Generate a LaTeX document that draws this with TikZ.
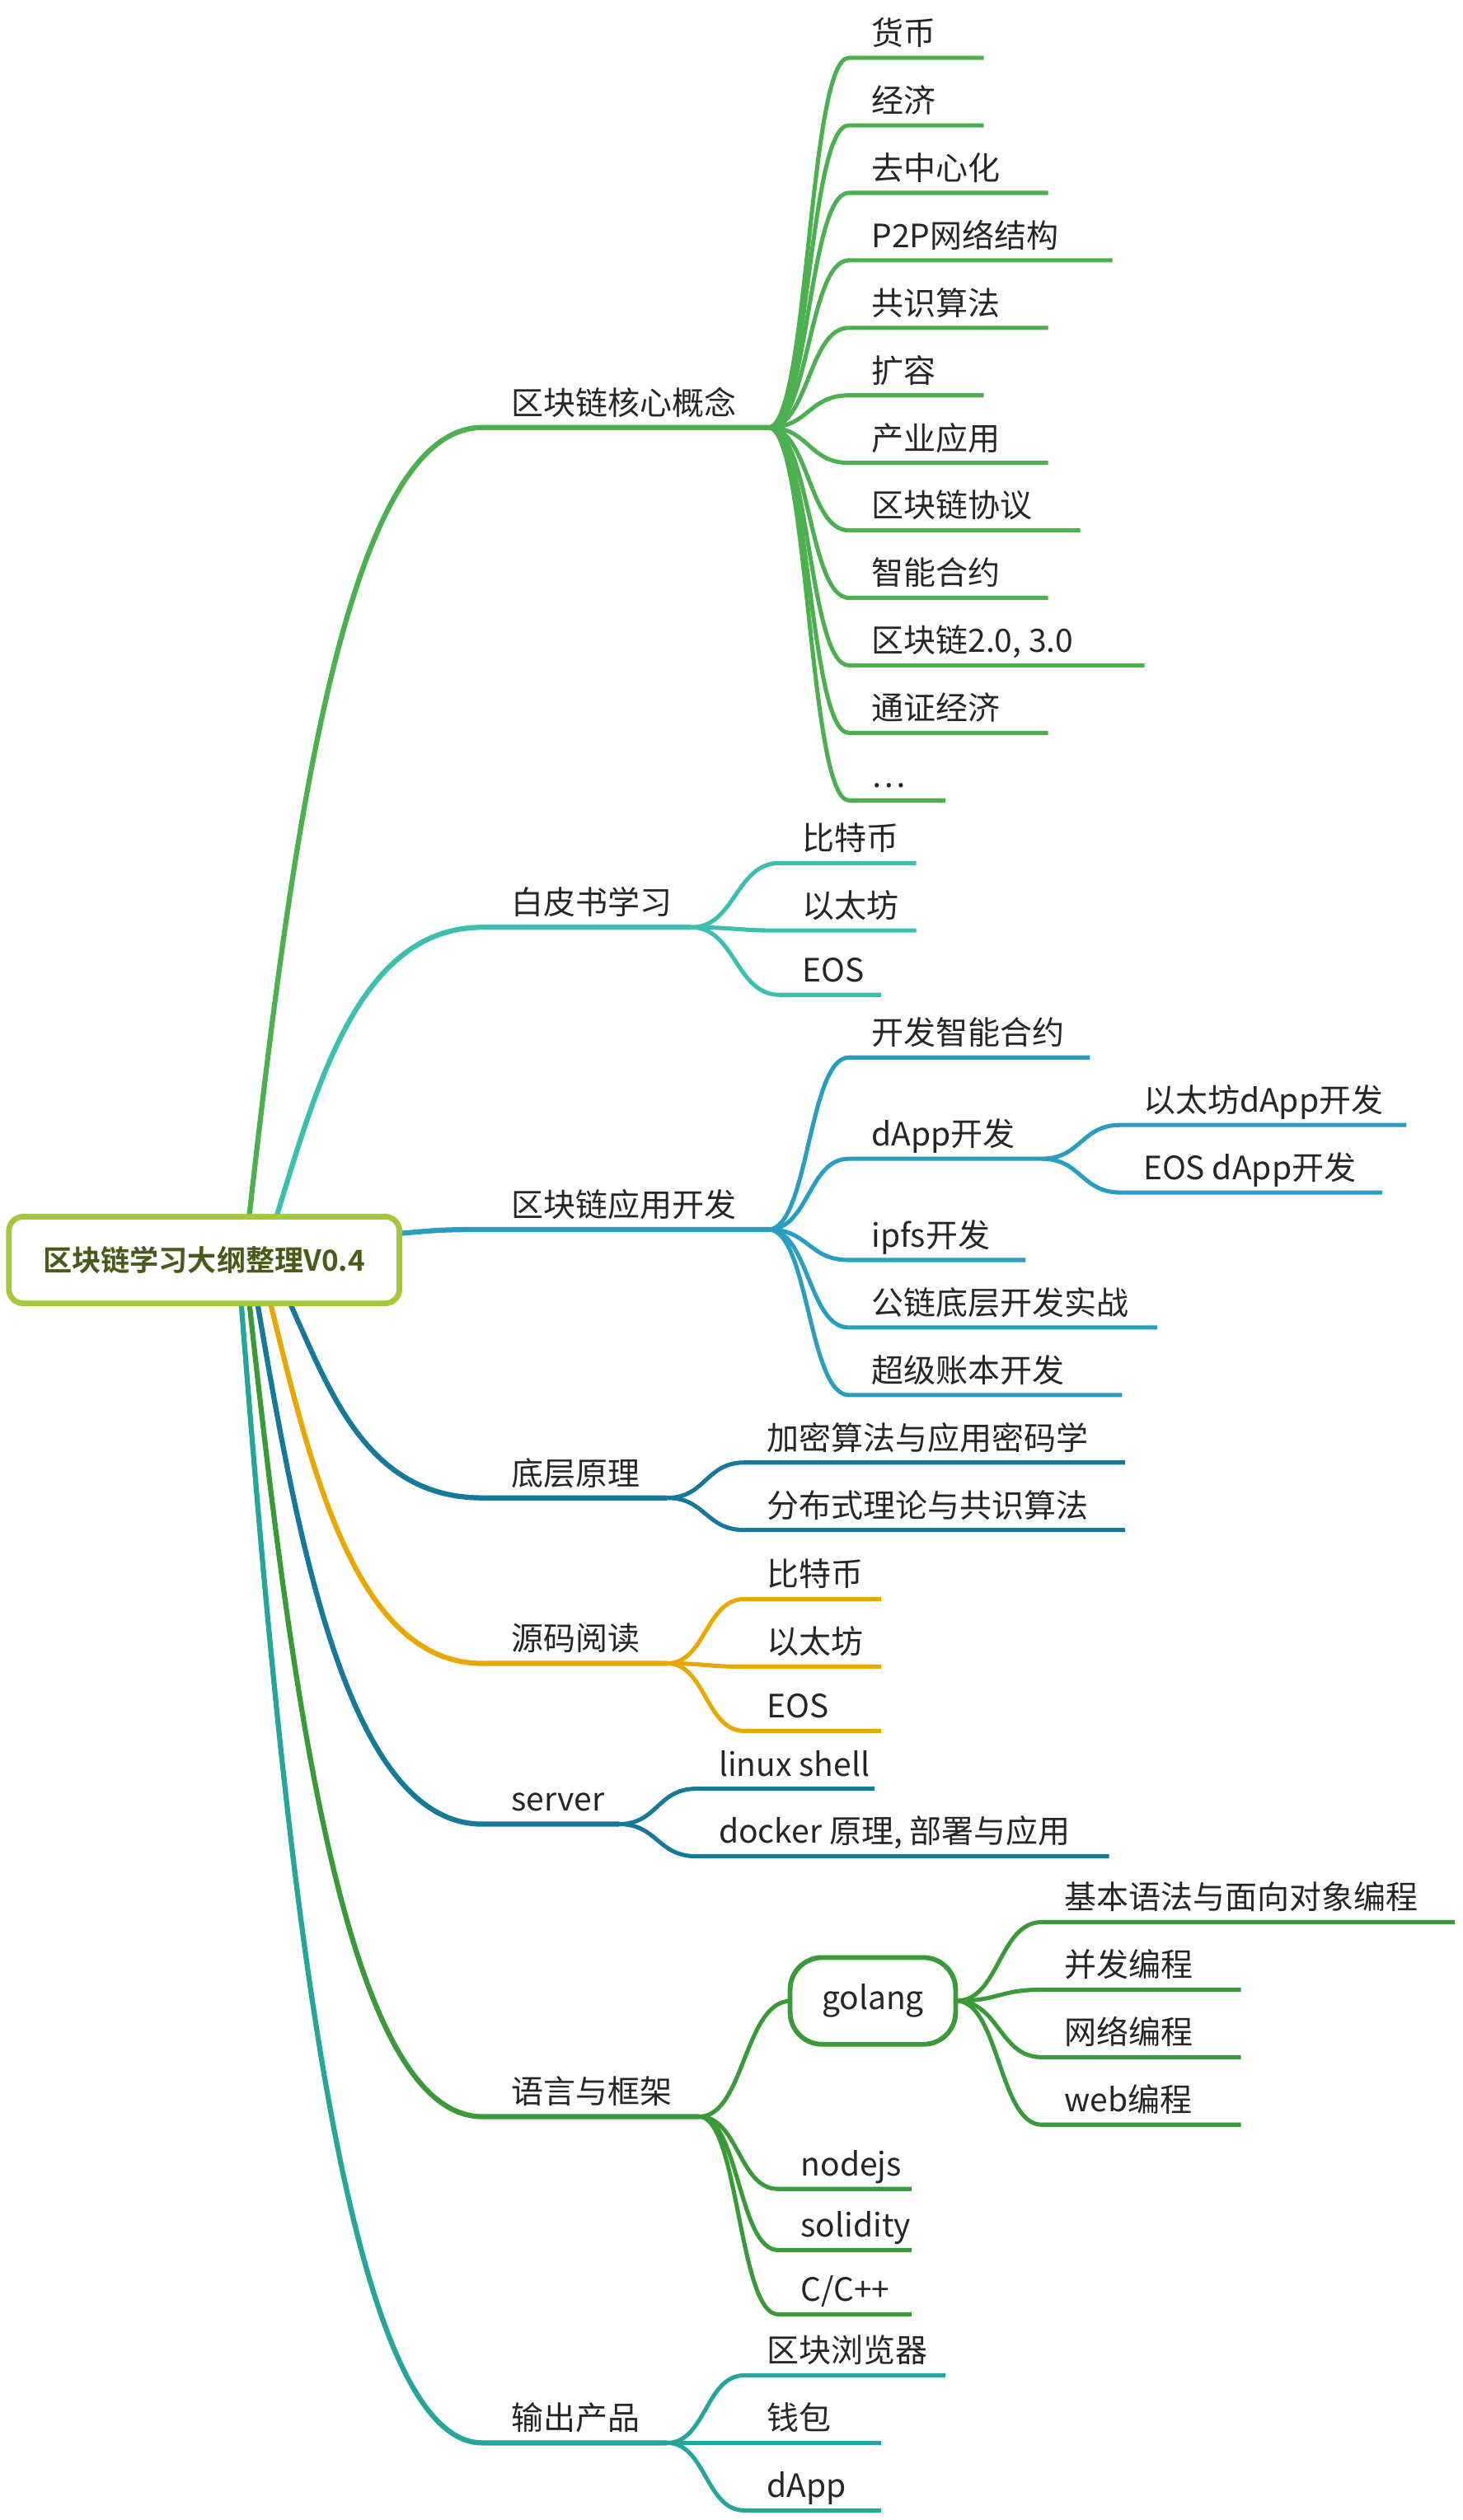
\documentclass[tikz,border=0pt]{standalone}
\usepackage{fontspec}
\setmainfont{Noto Sans CJK SC}[BoldFont={Noto Sans CJK SC Bold}]
\definecolor{cA}{HTML}{4CAF50}
\definecolor{cB}{HTML}{3DBFB0}
\definecolor{cC}{HTML}{2A9EC0}
\definecolor{cD}{HTML}{17799A}
\definecolor{cE}{HTML}{E8A800}
\definecolor{cG}{HTML}{3A9A3A}
\definecolor{cH}{HTML}{26A69A}
\definecolor{lime}{HTML}{A5C93B}
\definecolor{rootText}{HTML}{4A5A1A}
\tikzset{lbl/.style={anchor=base west,inner sep=0pt,font=\fontsize{20}{23}\selectfont,text=black!85}}
\newcommand{\br}[8]{%
 \coordinate (#8a) at (#1,#2); \coordinate (#8b) at (#3,#4); \coordinate (#8c) at (#5,#4);
 \draw[#6,line width=2.6pt] (#8a) .. controls ({(#1+#3)/2},#2) and ({(#1+#3)/2},#4) .. (#8b) -- (#8c);
 \node[lbl] (#8) at ({#3+14},{#4-8}) {#7};}
\newcommand{\rb}[8]{%
 \coordinate (#8a) at (#1,#2); \coordinate (#8b) at (300,#3); \coordinate (#8c) at (#4,#3);
 \draw[#5,line width=3.2pt] (#8a) .. controls ({#1+25},{#2+0.45*(#3-#2)}) and ({#1+0.4*(300-#1)},#3) .. (#8b) -- (#8c);
 \node[lbl] (#8) at (318,{#3-8}) {#6};}
\begin{document}
\begin{tikzpicture}[x=1pt,y=-1pt]
\useasboundingbox (0,0) rectangle (910,1568);
\rb{155}{757}{266}{478}{cA}{区块链核心概念}{n1}{}
\rb{172}{757}{577}{430}{cB}{白皮书学习}{n2}{}
\rb{240}{768}{765}{478}{cC}{区块链应用开发}{n3}{}
\rb{180}{810}{932}{415}{cD}{底层原理}{n4}{}
\rb{168}{810}{1035}{415}{cE}{源码阅读}{n5}{}
\rb{160}{810}{1135}{385}{cD}{server}{n6}{}
\rb{155}{810}{1317}{435}{cG}{语言与框架}{n7}{}
\rb{150}{810}{1520}{415}{cH}{输出产品}{n8}{}
\br{478}{266}{528}{36}{612}{cA}{货币}{a1}
\br{478}{266}{528}{78}{612}{cA}{经济}{a2}
\br{478}{266}{528}{120}{652}{cA}{去中心化}{a3}
\br{478}{266}{528}{162}{692}{cA}{P2P网络结构}{a4}
\br{478}{266}{528}{204}{652}{cA}{共识算法}{a5}
\br{478}{266}{528}{246}{612}{cA}{扩容}{a6}
\br{478}{266}{528}{288}{652}{cA}{产业应用}{a7}
\br{478}{266}{528}{330}{672}{cA}{区块链协议}{a8}
\br{478}{266}{528}{372}{652}{cA}{智能合约}{a9}
\br{478}{266}{528}{414}{712}{cA}{区块链2.0, 3.0}{a10}
\br{478}{266}{528}{456}{652}{cA}{通证经济}{a11}
\br{478}{266}{528}{498}{588}{cA}{…}{a12}
\br{430}{577}{485}{537}{570}{cB}{比特币}{b1}
\br{430}{577}{485}{579}{570}{cB}{以太坊}{b2}
\br{430}{577}{485}{619}{548}{cB}{EOS}{b3}
\br{478}{765}{528}{658}{678}{cC}{开发智能合约}{c1}
\br{478}{765}{528}{721}{648}{cC}{dApp开发}{c2}
\br{478}{765}{528}{784}{638}{cC}{ipfs开发}{c3}
\br{478}{765}{528}{826}{720}{cC}{公链底层开发实战}{c4}
\br{478}{765}{528}{868}{698}{cC}{超级账本开发}{c5}
\br{648}{721}{697}{700}{875}{cC}{以太坊dApp开发}{c6}
\br{648}{721}{697}{742}{860}{cC}{EOS dApp开发}{c7}
\br{415}{932}{463}{910}{700}{cD}{加密算法与应用密码学}{d1}
\br{415}{932}{463}{952}{700}{cD}{分布式理论与共识算法}{d2}
\br{415}{1035}{463}{995}{548}{cE}{比特币}{e1}
\br{415}{1035}{463}{1037}{548}{cE}{以太坊}{e2}
\br{415}{1035}{463}{1077}{548}{cE}{EOS}{e3}
\br{385}{1135}{433}{1113}{544}{cD}{linux shell}{f1}
\br{385}{1135}{433}{1155}{690}{cD}{docker 原理, 部署与应用}{f2}
\coordinate (g0a) at (435,1317); \coordinate (g0b) at (492,1245);
\draw[cG,line width=2.6pt] (g0a) .. controls (463,1317) and (463,1245) .. (g0b);
\node[draw=cG,line width=3pt,rounded corners=20pt,minimum width=103pt,minimum height=54pt,fill=white,font=\fontsize{20}{23}\selectfont,text=black!85] (golang) at (543,1245) {golang};
\br{595}{1245}{648}{1196}{905}{cG}{基本语法与面向对象编程}{g1}
\br{595}{1245}{648}{1238}{772}{cG}{并发编程}{g2}
\br{595}{1245}{648}{1280}{772}{cG}{网络编程}{g3}
\br{595}{1245}{648}{1322}{772}{cG}{web编程}{g4}
\br{435}{1317}{484}{1362}{567}{cG}{nodejs}{g5}
\br{435}{1317}{484}{1400}{567}{cG}{solidity}{g6}
\br{435}{1317}{484}{1440}{567}{cG}{C/C++}{g7}
\br{415}{1520}{463}{1478}{588}{cH}{区块浏览器}{h1}
\br{415}{1520}{463}{1520}{548}{cH}{钱包}{h2}
\br{415}{1520}{463}{1562}{548}{cH}{dApp}{h3}
\node[draw=lime,line width=3.5pt,rounded corners=9pt,fill=white,minimum width=243pt,minimum height=54pt,text=rootText,font=\bfseries\fontsize{18}{22}\selectfont] (root) at (127,784) {区块链学习大纲整理V0.4};
\end{tikzpicture}
\end{document}
